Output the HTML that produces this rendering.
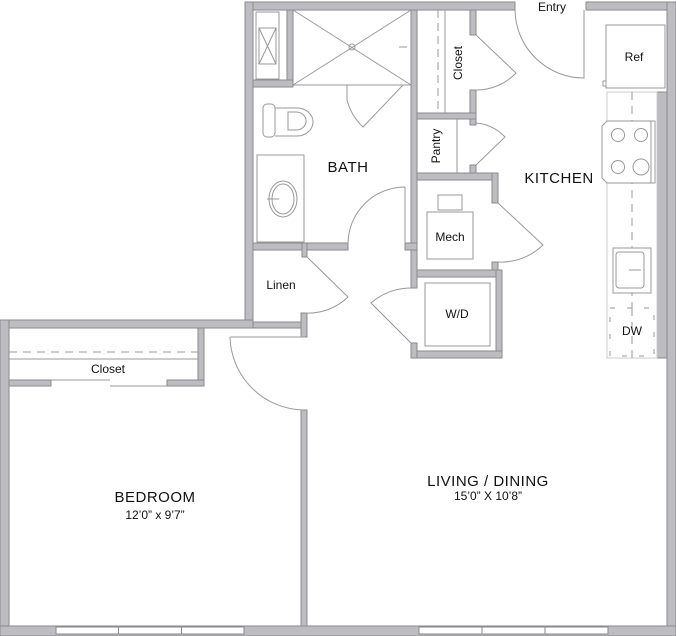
<!DOCTYPE html>
<html><head><meta charset="utf-8"><style>
html,body{margin:0;padding:0;background:#fff;}
svg{display:block;}
text{font-family:"Liberation Sans",sans-serif;fill:#111;}
</style></head><body>
<svg width="676" height="636" viewBox="0 0 676 636" xmlns="http://www.w3.org/2000/svg">
<g fill="#bdbdc1" stroke="#8a8a8e" stroke-width="1">
<rect x="245" y="2" width="270" height="8"/>
<rect x="586" y="2" width="90" height="8"/>
<rect x="667" y="2" width="9" height="634"/>
<rect x="245" y="2" width="8" height="326"/>
<rect x="0" y="320" width="253" height="8"/>
<rect x="0" y="320" width="9" height="316"/>
<rect x="0" y="626" width="676" height="10"/>
<rect x="253" y="322" width="54" height="6"/>
<rect x="301" y="313" width="6" height="24"/>
<rect x="301" y="410" width="6" height="216"/>
<rect x="287" y="10" width="6" height="77"/>
<rect x="253" y="80" width="40" height="7"/>
<rect x="411" y="10" width="6" height="278"/>
<rect x="253" y="243" width="95" height="7"/>
<rect x="405" y="243" width="12" height="7"/>
<rect x="302" y="243" width="5" height="14"/>
<rect x="470" y="10" width="6" height="25"/>
<rect x="470" y="90" width="6" height="35"/>
<rect x="417" y="113" width="59" height="6"/>
<rect x="470" y="165" width="6" height="10"/>
<rect x="417" y="173" width="81" height="7"/>
<rect x="492" y="173" width="6" height="30"/>
<rect x="492" y="262" width="6" height="15"/>
<rect x="417" y="270" width="81" height="7"/>
<rect x="496" y="270" width="6" height="88"/>
<rect x="411" y="351" width="91" height="7"/>
<rect x="411" y="343" width="6" height="15"/>
<rect x="198" y="328" width="6" height="58"/>
<rect x="9" y="380" width="42" height="6"/>
<rect x="167" y="380" width="37" height="6"/>
<rect x="657" y="92" width="10" height="266"/>
</g>
<g fill="#fff" stroke="#8a8a8e" stroke-width="1">
<rect x="56" y="627" width="188" height="7"/>
<rect x="419" y="627" width="189" height="7"/>
</g>
<g stroke="#8a8a8e" stroke-width="1">
<line x1="118.5" y1="627" x2="118.5" y2="634"/><line x1="181.5" y1="627" x2="181.5" y2="634"/>
<line x1="482" y1="627" x2="482" y2="634"/><line x1="545" y1="627" x2="545" y2="634"/>
</g>
<g fill="none" stroke="#999" stroke-width="1">
<rect x="256" y="12" width="23" height="67"/>
<rect x="259" y="28" width="17" height="36"/>
<line x1="259" y1="28" x2="276" y2="64"/><line x1="276" y1="28" x2="259" y2="64"/>
<line x1="293" y1="10" x2="411" y2="85"/><line x1="411" y1="10" x2="293" y2="85"/>
<line x1="293" y1="85" x2="411" y2="85"/>
<circle cx="352" cy="47" r="3"/>
<path d="M399 47 h8"/>
<rect x="263" y="104" width="12" height="33" rx="4"/>
<path d="M275 108 h22 a16 14 0 0 1 0 28 h-22"/>
<path d="M288 112 h8 a9 8 0 0 1 0 18 h-8 z"/>
<rect x="257" y="155" width="47" height="87"/>
<ellipse cx="283" cy="199" rx="14" ry="18"/>
<ellipse cx="283" cy="199" rx="11" ry="15"/>
<path d="M267 199 h12"/>
<path d="M347 85 v15 A57 57 0 0 0 363 127 L403 85"/>
<path d="M405 187 v56 M405 187 A57 57 0 0 0 348 243"/>
<path d="M307 257 L348 297 A57 57 0 0 1 305 313"/>
<path d="M476 35 L516 73 A55 55 0 0 1 476 90"/>
<path d="M476 123 A45 45 0 0 1 505 137 L476 165"/>
<path d="M498 203 L543 245 A60 60 0 0 1 498 262"/>
<path d="M411 288 A60 60 0 0 0 371 303 L411 343"/>
<path d="M230 337 H305 M230 337 A75 75 0 0 0 303 410"/>
<path d="M515 10 A69 69 0 0 0 584 78 V10"/>
<line x1="445" y1="10" x2="445" y2="113"/>
<line x1="438" y1="10" x2="438" y2="113" stroke-dasharray="8,5"/>
<line x1="457" y1="119" x2="457" y2="173"/>
<rect x="438" y="195" width="24" height="15"/>
<rect x="427" y="212" width="46" height="47"/>
<rect x="425" y="283" width="65" height="63"/>
<line x1="9" y1="352" x2="198" y2="352" stroke-dasharray="8,6"/>
<line x1="9" y1="359" x2="198" y2="359"/>
<line x1="51" y1="380" x2="110" y2="380"/>
<line x1="110" y1="386" x2="167" y2="386"/>
<rect x="606" y="25" width="59" height="63"/>
<rect x="603" y="81" width="3" height="5"/>
<rect x="607" y="92" width="50" height="266" stroke="#ccc"/>
<line x1="632" y1="92" x2="632" y2="358" stroke-dasharray="8,6"/>
<path d="M607 121 H655 V183 H607 L602 178 V126 Z" fill="#fff"/>
<line x1="651" y1="121" x2="651" y2="183"/>
<circle cx="618" cy="135" r="6.5"/><circle cx="641" cy="135" r="6.5"/>
<circle cx="618" cy="167" r="6.5"/><circle cx="641" cy="167" r="8"/>
<rect x="613" y="248" width="38" height="45" fill="#fff"/>
<rect x="616" y="252" width="28" height="36" rx="3"/>
<path d="M629 270 h12"/>
<rect x="610" y="308" width="44" height="48" fill="#fff" stroke-dasharray="5,12"/>
<line x1="632" y1="308" x2="632" y2="358" stroke-dasharray="8,6"/>
</g>
<g font-size="12" text-anchor="middle">
<text x="552" y="11">Entry</text>
<text x="634" y="61">Ref</text>
<text x="632" y="335">DW</text>
<text x="450" y="241">Mech</text>
<text x="457" y="318">W/D</text>
<text x="281" y="289">Linen</text>
<text x="108" y="373">Closet</text>
<text transform="translate(462,63) rotate(-90)">Closet</text>
<text transform="translate(440,146) rotate(-90)">Pantry</text>
</g>
<g font-size="15" text-anchor="middle" letter-spacing="0.5">
<text x="348" y="172">BATH</text>
<text x="559" y="183">KITCHEN</text>
<text x="155" y="502">BEDROOM</text>
<text x="488" y="486">LIVING / DINING</text>
</g>
<g font-size="12" text-anchor="middle">
<text x="155" y="519">12’0” x 9’7”</text>
<text x="488" y="500">15’0” X 10’8”</text>
</g>
</svg>
</body></html>
